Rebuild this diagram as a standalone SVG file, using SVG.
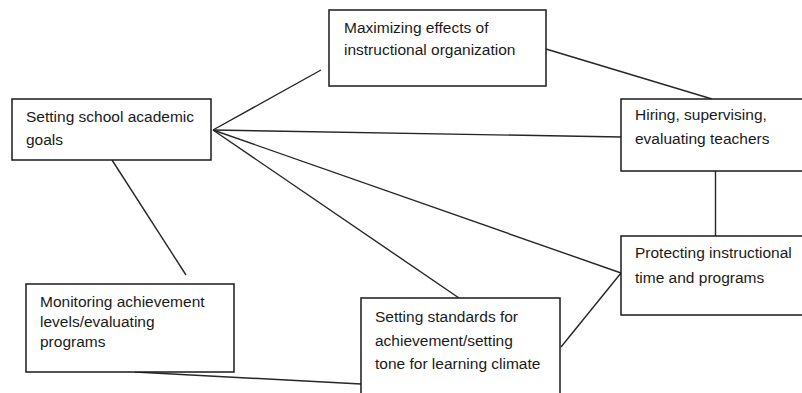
<svg xmlns="http://www.w3.org/2000/svg" width="802" height="393" viewBox="0 0 802 393">
  <style>
    .box { fill: #ffffff; stroke: #1a1a1a; stroke-width: 1.5; }
    .lbl { font-family: "Liberation Sans", Arial, sans-serif; font-size: 15.5px; fill: #1a1a1a; }
    .edge { stroke: #262626; stroke-width: 1.4; fill: none; }
  </style>
  <rect width="802" height="393" fill="#ffffff"/>

  <g id="connectors">
    <line class="edge" x1="213" y1="130" x2="321" y2="70"/>
    <line class="edge" x1="213" y1="130" x2="621" y2="137"/>
    <line class="edge" x1="213" y1="130" x2="621" y2="273"/>
    <line class="edge" x1="213" y1="130" x2="459" y2="298"/>
    <line class="edge" x1="112" y1="160" x2="186" y2="275"/>
    <line class="edge" x1="546" y1="49" x2="712" y2="99"/>
    <line class="edge" x1="715.5" y1="171" x2="715.5" y2="236"/>
    <line class="edge" x1="561" y1="347" x2="621" y2="273"/>
    <line class="edge" x1="135" y1="372" x2="361" y2="384"/>
  </g>

  <g id="goals">
    <rect class="box" x="12" y="99" width="199" height="61"/>
    <text class="lbl" x="26" y="122">Setting school academic</text>
    <text class="lbl" x="26" y="145">goals</text>
  </g>

  <g id="instructional-organization">
    <rect class="box" x="329" y="10" width="217" height="76"/>
    <text class="lbl" x="344" y="33">Maximizing effects of</text>
    <text class="lbl" x="344" y="55">instructional organization</text>
  </g>

  <g id="teachers">
    <rect class="box" x="621" y="99" width="200" height="72"/>
    <text class="lbl" x="635" y="120">Hiring, supervising,</text>
    <text class="lbl" x="635" y="144">evaluating teachers</text>
  </g>

  <g id="instructional-time">
    <rect class="box" x="621" y="236" width="200" height="79"/>
    <text class="lbl" x="635" y="258">Protecting instructional</text>
    <text class="lbl" x="635" y="283">time and programs</text>
  </g>

  <g id="monitoring">
    <rect class="box" x="26" y="284" width="208" height="88"/>
    <text class="lbl" x="40" y="307">Monitoring achievement</text>
    <text class="lbl" x="40" y="327">levels/evaluating</text>
    <text class="lbl" x="40" y="347">programs</text>
  </g>

  <g id="standards">
    <rect class="box" x="361" y="298" width="199" height="110"/>
    <text class="lbl" x="375" y="322">Setting standards for</text>
    <text class="lbl" x="375" y="346">achievement/setting</text>
    <text class="lbl" x="375" y="369">tone for learning climate</text>
  </g>
</svg>
